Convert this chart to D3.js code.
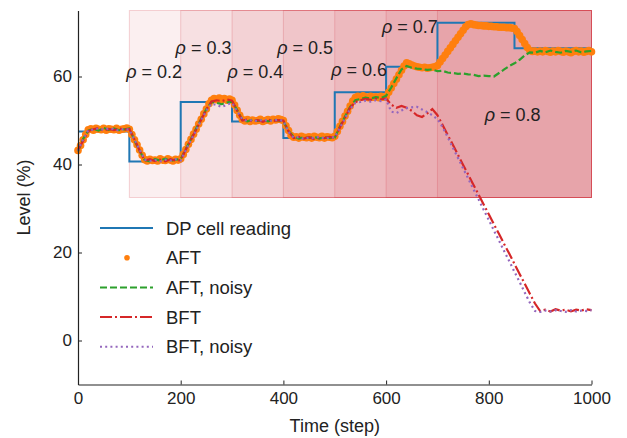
<!DOCTYPE html>
<html><head><meta charset="utf-8">
<script src="https://cdn.jsdelivr.net/npm/d3@7"></script>
<style>
body{margin:0;background:#fff}
svg{display:block}
text{font-family:"Liberation Sans",Arial,Helvetica,sans-serif;fill:#222}
</style>
</head><body>
<svg id="c" width="627" height="438"></svg>
<script>
// ---------------- data ----------------
const dpTimes  = [0, 100, 200, 300, 400, 500, 600, 700, 850, 1000];
const dpValues = [47.5, 40.7, 54.2, 49.8, 46.0, 56.4, 62.2, 72.2, 66.4, 66.4];

// AFT, sampled every 5 steps (0..1000)
const aftValues = [
 43.2,44.3,45.6,46.8,47.9,48.1,47.8,48.2,48.0,47.9,48.2,47.8,48.1,48.0,47.9,48.2,47.8,48.0,48.1,48.3,
 48.0,46.8,45.6,44.5,43.3,42.1,41.1,40.8,41.2,40.9,41.0,40.8,41.3,41.0,40.9,41.3,41.0,40.8,41.2,41.0,
 41.3,42.3,43.4,44.6,45.7,46.9,48.0,49.2,50.3,51.5,52.6,53.8,54.6,55.0,54.7,55.1,54.8,55.0,54.6,54.9,
 54.6,53.5,52.3,51.2,50.2,49.9,50.2,49.8,50.1,49.9,50.0,50.3,49.8,50.0,50.2,49.9,50.3,50.1,50.4,50.2,
 50.0,48.8,47.7,46.6,46.2,46.3,46.0,46.4,46.2,46.1,46.3,46.0,46.4,46.2,46.1,46.4,46.0,46.3,46.2,46.1,
 46.4,47.5,48.7,49.8,51.0,52.1,53.3,54.4,55.2,55.5,55.3,55.6,55.4,55.2,55.5,55.3,55.4,55.2,55.5,55.3,
 55.4,56.4,57.4,58.4,59.4,60.4,61.4,62.4,63.1,62.9,62.6,62.4,62.2,62.1,62.0,62.1,61.9,62.0,62.1,62.2,
 62.5,63.3,64.1,64.9,65.7,66.5,67.3,68.1,68.9,69.7,70.5,71.3,71.8,72.0,71.8,71.7,71.6,71.6,71.5,71.5,
 71.4,71.4,71.3,71.3,71.2,71.2,71.2,71.1,71.1,71.0,70.9,70.2,69.3,68.4,67.5,66.6,65.9,65.7,65.8,65.6,
 65.8,65.6,65.9,65.7,65.5,65.8,65.6,65.9,65.7,65.5,65.8,65.6,65.4,65.7,65.9,65.6,65.8,65.5,65.7,65.9,
 65.6
];

// the three other series, sampled every 10 steps (0..1000)
const aftNoisyValues = [
 43.0,45.8,47.7,48.1,47.7,48.3,47.9,48.2,47.8,48.0,
 48.2,45.5,43.1,41.0,40.7,41.2,40.9,41.3,40.8,41.1,
 41.2,43.5,45.8,48.1,50.4,52.6,54.2,54.0,53.7,54.1,
 54.3,52.4,50.1,49.8,50.2,49.9,50.1,49.8,50.2,50.0,
 49.8,47.6,46.3,45.9,46.2,46.0,46.3,45.9,46.2,46.0,
 46.1,48.6,50.9,53.1,54.6,54.9,55.2,55.0,55.3,55.1,
 55.6,57.5,59.6,61.6,62.4,62.0,61.8,61.7,61.5,61.6,
 61.2,61.3,60.9,60.8,60.6,60.7,60.5,60.4,60.1,60.2,
 60.1,60.0,60.8,61.6,62.4,63.0,63.8,64.8,65.5,65.4,
 65.8,65.5,65.9,65.6,65.4,65.8,65.6,65.9,65.5,65.7,
 65.8
];
const bftValues = [
 43.3,45.4,47.6,48.0,48.3,47.7,48.1,47.8,48.2,47.9,
 48.1,45.7,43.2,40.9,41.2,40.8,41.1,40.7,41.2,40.9,
 41.0,43.4,45.6,47.9,50.2,52.5,54.3,54.6,54.4,54.8,
 54.5,52.2,50.0,50.2,49.8,50.1,49.7,50.2,49.9,50.1,
 50.0,47.5,46.0,46.3,45.9,46.2,45.8,46.1,46.0,46.3,
 46.0,48.4,50.7,52.9,54.2,54.6,54.9,54.7,55.0,54.8,
 55.0,53.6,52.9,53.3,52.9,52.2,51.2,50.8,51.6,52.6,
 51.2,49.0,46.7,44.5,42.2,39.9,37.7,35.4,33.2,30.9,
 28.7,26.4,24.2,21.9,19.7,17.4,15.1,12.9,10.6,8.4,
 6.7,7.0,6.6,7.1,6.8,7.0,6.6,7.0,6.8,7.1,
 6.9
];
const bftNoisyValues = [
 43.1,45.7,47.8,47.9,48.2,47.9,48.2,48.0,47.7,48.1,
 47.9,45.6,43.4,41.1,40.8,41.0,40.7,41.1,40.9,41.2,
 40.9,43.3,45.5,47.8,50.1,52.3,53.8,53.5,53.1,53.6,
 54.0,52.1,50.3,49.9,50.1,49.8,50.2,49.9,50.0,50.2,
 49.9,47.4,46.1,46.2,45.8,46.1,46.0,46.3,45.9,46.1,
 46.2,48.3,50.5,52.6,54.0,54.2,54.5,54.3,54.6,54.4,
 54.8,52.0,51.7,52.3,52.8,53.0,53.1,52.5,51.9,51.2,
 50.3,48.5,46.2,43.8,41.5,39.1,36.8,34.4,32.1,29.7,
 27.4,25.0,22.7,20.3,18.0,15.6,13.3,10.9,8.6,6.7,
 6.5,6.8,6.6,6.9,6.7,6.5,6.9,6.6,6.8,6.7,
 6.9
];

const rhoValues = [0.2, 0.3, 0.4, 0.5, 0.6, 0.7, 0.8];
const rhoStarts = [100, 200, 300, 400, 500, 600, 700];
const rhoLabelX = [94, 190, 291, 388, 493, 592, 792];
const rhoLabelY = [61.0, 66.5, 61.0, 66.5, 61.5, 71.2, 51.2];

const xTicks = [0, 200, 400, 600, 800, 1000];
const yTicks = [0, 20, 40, 60];
const legendLabels = ["DP cell reading", "AFT", "AFT, noisy", "BFT", "BFT, noisy"];

// ---------------- chart ----------------
const svg = d3.select("#c");
const x = d3.scaleLinear().domain([0, 1000]).range([78, 591.5]);
const y = d3.scaleLinear().domain([-10, 75]).range([384.5, 10.5]);

const fine = d3.range(0, 1001, 5);
const coarse = d3.range(0, 1001, 10);

const shadeColor = "#d22d3c";
const shadeTop = 75, shadeBottom = 32.5;

// stacked shaded regions
const gShade = svg.append("g");
rhoStarts.forEach((s) => {
  gShade.append("rect")
    .attr("x", x(s)).attr("y", y(shadeTop))
    .attr("width", x(1000) - x(s)).attr("height", y(shadeBottom) - y(shadeTop))
    .attr("fill", shadeColor).attr("fill-opacity", 0.08)
    .attr("stroke", shadeColor).attr("stroke-opacity", 0.2).attr("stroke-width", 1);
});

const line = d3.line().x(d => x(d[0])).y(d => y(d[1]));

// DP cell reading
svg.append("path")
  .datum(dpTimes.map((t, i) => [t, dpValues[i]]))
  .attr("d", d3.line().curve(d3.curveStepAfter).x(d => x(d[0])).y(d => y(d[1])))
  .attr("fill", "none").attr("stroke", "#1f77b4").attr("stroke-width", 2);

// AFT dots
svg.append("g").selectAll("circle")
  .data(fine.map((t, i) => [t, aftValues[i]]))
  .join("circle")
  .attr("cx", d => x(d[0])).attr("cy", d => y(d[1])).attr("r", 3.8)
  .attr("fill", "#ff7f0e");

// AFT noisy
svg.append("path")
  .datum(coarse.map((t, i) => [t, aftNoisyValues[i]]))
  .attr("d", line).attr("fill", "none")
  .attr("stroke", "#2ca02c").attr("stroke-width", 2.2).attr("stroke-dasharray", "7,3");

// BFT
svg.append("path")
  .datum(coarse.map((t, i) => [t, bftValues[i]]))
  .attr("d", line).attr("fill", "none")
  .attr("stroke", "#d62728").attr("stroke-width", 2.2).attr("stroke-dasharray", "12,3,2,3");

// BFT noisy
svg.append("path")
  .datum(coarse.map((t, i) => [t, bftNoisyValues[i]]))
  .attr("d", line).attr("fill", "none")
  .attr("stroke", "#9467bd").attr("stroke-width", 2.2).attr("stroke-dasharray", "2,3.2");

// rho labels
const gLab = svg.append("g");
rhoValues.forEach((r, i) => {
  const t = gLab.append("text")
    .attr("x", x(rhoLabelX[i])).attr("y", y(rhoLabelY[i]))
    .attr("dominant-baseline", "central")
    .attr("font-size", 18);
  t.append("tspan").attr("font-style", "italic").text("ρ");
  t.append("tspan").text(" = " + r.toFixed(1));
});

// axes
const xAxis = d3.axisBottom(x).tickValues(xTicks).tickFormat(d3.format("d"))
  .tickSizeInner(-4).tickSizeOuter(0).tickPadding(7);
const yAxis = d3.axisLeft(y).tickValues(yTicks).tickFormat(d3.format("d"))
  .tickSizeInner(-4).tickSizeOuter(0).tickPadding(6);

const gx = svg.append("g").attr("transform", `translate(0,${y(-10)})`).call(xAxis);
const gy = svg.append("g").attr("transform", `translate(${x(0)},0)`).call(yAxis);
[gx, gy].forEach(g => {
  g.selectAll(".domain").attr("stroke", "#222").attr("stroke-width", 1.2);
  g.selectAll(".tick line").attr("stroke", "#222").attr("stroke-width", 1);
  g.selectAll(".tick text").attr("font-size", 17).attr("fill", "#222")
    .attr("font-family", '"Liberation Sans",Arial,sans-serif');
});

svg.append("text").attr("x", (x(0) + x(1000)) / 2).attr("y", 432)
  .attr("text-anchor", "middle").attr("font-size", 18).text("Time (step)");
svg.append("text")
  .attr("transform", `translate(30,${(y(-10) + y(75)) / 2}) rotate(-90)`)
  .attr("text-anchor", "middle").attr("font-size", 18).text("Level (%)");

// legend
const legY0 = 228, legDy = 29.7;
const gl = svg.append("g");
const styles = [
  {stroke: "#1f77b4", dash: null},
  {dot: "#ff7f0e"},
  {stroke: "#2ca02c", dash: "7,3"},
  {stroke: "#d62728", dash: "12,3,2,3"},
  {stroke: "#9467bd", dash: "2,3.2"}
];
legendLabels.forEach((lab, i) => {
  const yy = legY0 + i * legDy;
  const st = styles[i];
  if (st.dot) {
    gl.append("circle").attr("cx", 127).attr("cy", yy).attr("r", 2.8).attr("fill", st.dot);
  } else {
    gl.append("line").attr("x1", 100).attr("x2", 153).attr("y1", yy).attr("y2", yy)
      .attr("stroke", st.stroke).attr("stroke-width", 2)
      .attr("stroke-dasharray", st.dash);
  }
  gl.append("text").attr("x", 166).attr("y", yy).attr("dominant-baseline", "central")
    .attr("font-size", 18.5).text(lab);
});
</script>
</body></html>
